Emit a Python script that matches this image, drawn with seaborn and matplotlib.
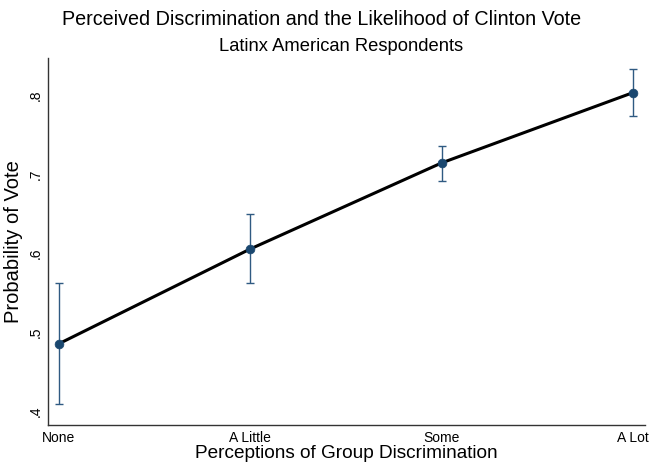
import matplotlib
matplotlib.use("Agg")
import matplotlib.pyplot as plt
import seaborn as sns
import pandas as pd
import numpy as np

# Predicted probabilities of a Clinton vote by perceived group discrimination
categories = ["None", "A Little", "Some", "A Lot"]
prob = [0.485, 0.605, 0.714, 0.803]
ci_low = [0.408, 0.562, 0.691, 0.774]
ci_high = [0.562, 0.649, 0.736, 0.833]
y_ticks = [0.4, 0.5, 0.6, 0.7, 0.8]
y_tick_labels = [".4", ".5", ".6", ".7", ".8"]

sns.set_style("white")
plt.rcParams["font.family"] = ["Liberation Sans", "DejaVu Sans"]
plt.rcParams["text.color"] = "black"
plt.rcParams["axes.labelcolor"] = "black"

df = pd.DataFrame({"pos": np.arange(len(categories)), "prob": prob,
                   "lo": ci_low, "hi": ci_high})

fig = plt.figure(figsize=(6.53, 4.63), dpi=100)
ax = fig.add_axes([0.0735, 0.0821, 0.914, 0.7927])

navy = "#1a476f"
err = [df["prob"] - df["lo"], df["hi"] - df["prob"]]
ax.errorbar(df["pos"], df["prob"], yerr=err, fmt="none", ecolor="#2f5a82",
            elinewidth=1.0, capsize=2.8, capthick=1.0, zorder=2)
sns.lineplot(data=df, x="pos", y="prob", ax=ax, color="black",
             linewidth=2.2, zorder=3)
sns.scatterplot(data=df, x="pos", y="prob", ax=ax, color=navy, s=40,
                edgecolor=navy, linewidth=0.5, zorder=4)

ax.set_xlim(-0.0575, 3.063)
ax.set_ylim(0.382, 0.847)
ax.set_xticks(df["pos"])
ax.set_xticklabels(categories, fontsize=10)
ax.set_yticks(y_ticks)
ax.set_yticklabels(y_tick_labels, fontsize=10, rotation=90, va="center")
ax.tick_params(axis="both", length=0, pad=4, colors="black")

for side in ["top", "right"]:
    ax.spines[side].set_visible(False)
for side in ["left", "bottom"]:
    ax.spines[side].set_color("#333333")
    ax.spines[side].set_linewidth(1.0)

ax.set_xlabel("Perceptions of Group Discrimination", fontsize=13.7, labelpad=0)
ax.set_ylabel("Probability of Vote", fontsize=14.5, labelpad=4)

fig.text(0.492, 0.946, "Perceived Discrimination and the Likelihood of Clinton Vote",
         ha="center", va="baseline", fontsize=14.2, color="black")
fig.text(0.523, 0.890, "Latinx American Respondents",
         ha="center", va="baseline", fontsize=13.2, color="black")

fig.savefig("out.png", dpi=100, facecolor="white")
